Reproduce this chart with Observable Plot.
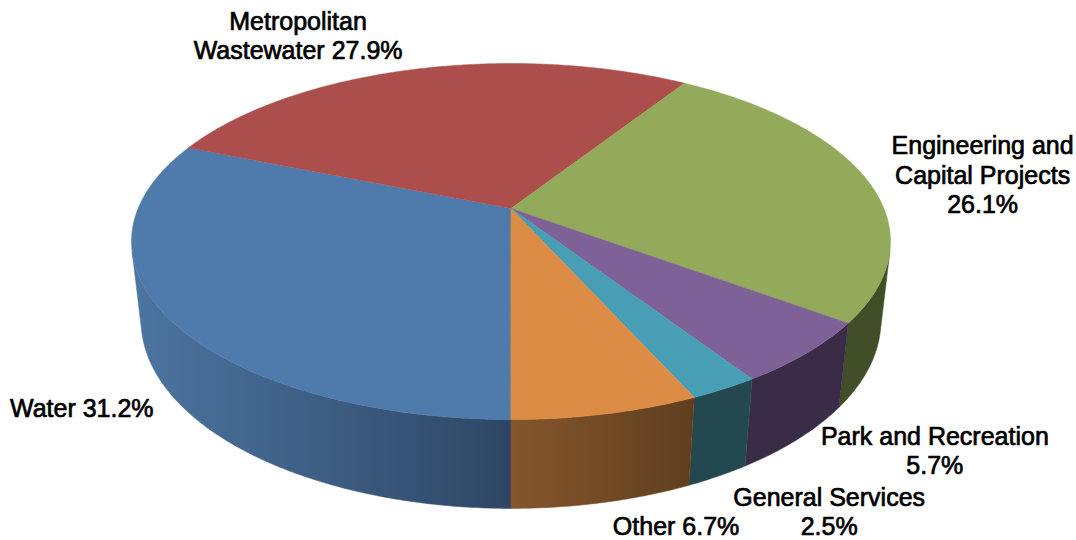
<!DOCTYPE html>
<html>
<head>
<meta charset="utf-8">
<style>html,body{margin:0;padding:0;background:#fff}svg{display:block}</style>
<script src="https://cdn.jsdelivr.net/npm/d3@7"></script>
<script src="https://cdn.jsdelivr.net/npm/@observablehq/plot@0.6"></script>
</head>
<body>
<div id="chart"></div>
<script>
// Data, clockwise from the bottom of the pie
const sliceNames = ["Water", "Metropolitan Wastewater", "Engineering and Capital Projects", "Park and Recreation", "General Services", "Other"];
const sliceShares = [31.2, 27.9, 26.1, 5.7, 2.5, 6.7];
const sliceLabels = ["Water 31.2%", "Metropolitan\nWastewater 27.9%", "Engineering and\nCapital Projects\n26.1%", "Park and Recreation\n5.7%", "General Services\n2.5%", "Other 6.7%"];

// Styles
const topColors = ["#4f7bac", "#ac4f4c", "#93aa5a", "#7e6297", "#489eb5", "#dd8c45"];
const rimStart = ["#2e4664", "#6b3030", "#414e28", "#3a2c47", "#23484f", "#5f3e1f"];
const rimEnd = ["#4c75a1", "#6b3030", "#414e28", "#3a2c47", "#23484f", "#85562c"];
const labelDx = [-84, -117, 117, 128, 105, 70];
const labelDy = [92, -34, -4, 97, 122, 112];

// Perspective view of the disc
const view = {cx: 510.5, cy: 208, A: 372.9, B: 171.9, k: 0.1855, m: 0.025, C: 79.9};
const project = (deg, h) => {
  const t = deg * Math.PI / 180, u = -Math.sin(t), v = Math.cos(t);
  const d = 1 - view.k * v + view.m * h;
  return [view.cx + view.A * u / d, view.cy + (view.B * v + view.C * h) / d];
};

const total = d3.sum(sliceShares);
let cum = 0;
const slices = sliceNames.map((name, i) => {
  const a0 = cum / total * 360;
  cum += sliceShares[i];
  const a1 = cum / total * 360;
  return {name, i, a0, a1, mid: (a0 + a1) / 2};
});

const arc = (a0, a1, h) => {
  const pts = [];
  const n = Math.max(2, Math.ceil(Math.abs(a1 - a0) * 2));
  for (let j = 0; j <= n; ++j) pts.push(project(a0 + (a1 - a0) * j / n, h));
  return pts;
};

// Only the front of the rim is visible
const rimFrontLeft = 76, rimFrontRight = 284;

const topRows = slices.flatMap(s =>
  [[view.cx, view.cy], ...arc(s.a0, s.a1, 0)].map(p => ({id: s.name, color: topColors[s.i], p}))
);

const rimPieces = [];
for (const s of slices) {
  const ranges = [];
  if (s.a0 < rimFrontLeft) ranges.push([s.a0, Math.min(s.a1, rimFrontLeft)]);
  if (s.a1 > rimFrontRight) ranges.push([Math.max(s.a0, rimFrontRight), s.a1]);
  ranges.forEach(([r0, r1], j) => {
    rimPieces.push({
      gid: `rim-${s.i}-${j}`, i: s.i,
      x1: project(r0, 0)[0], x2: project(r1, 0)[0],
      pts: [...arc(r0, r1, 0), ...arc(r1, r0, 1)]
    });
  });
}

const defsMark = () => {
  const defs = d3.create("svg:defs");
  for (const r of rimPieces) {
    const g = defs.append("linearGradient").attr("id", r.gid)
      .attr("gradientUnits", "userSpaceOnUse")
      .attr("x1", r.x1).attr("x2", r.x2).attr("y1", 0).attr("y2", 0);
    g.append("stop").attr("offset", 0).attr("stop-color", rimStart[r.i]);
    g.append("stop").attr("offset", 1).attr("stop-color", rimEnd[r.i]);
  }
  return defs.node();
};

const rimMarks = rimPieces.map(r => Plot.line(r.pts, {
  x: d => d[0], y: d => d[1],
  fill: `url(#${r.gid})`, stroke: `url(#${r.gid})`, strokeWidth: 0.5,
  curve: "linear-closed"
}));

const labelMarks = slices.map(s => {
  const [ax, ay] = project(s.mid, 0);
  return Plot.text([sliceLabels[s.i]], {
    x: () => ax, y: () => ay, text: d => d,
    dx: labelDx[s.i], dy: labelDy[s.i],
    textAnchor: "middle", lineAnchor: "middle", lineHeight: 1.17,
    fontSize: 25, fontFamily: "Liberation Sans", fill: "#000",
    stroke: "#000", strokeWidth: 0.7
  });
});

const chart = Plot.plot({
  width: 1076, height: 540,
  margin: 0,
  x: {domain: [0, 1076], range: [0, 1076], axis: null},
  y: {domain: [0, 540], range: [0, 540], axis: null},
  color: {type: "identity"},
  marks: [
    defsMark,
    ...rimMarks,
    Plot.line(topRows, {
      x: d => d.p[0], y: d => d.p[1], z: "id",
      fill: "color", stroke: "color", strokeWidth: 0.5,
      curve: "linear-closed"
    }),
    ...labelMarks
  ]
});
document.getElementById("chart").append(chart);
</script>
</body>
</html>
